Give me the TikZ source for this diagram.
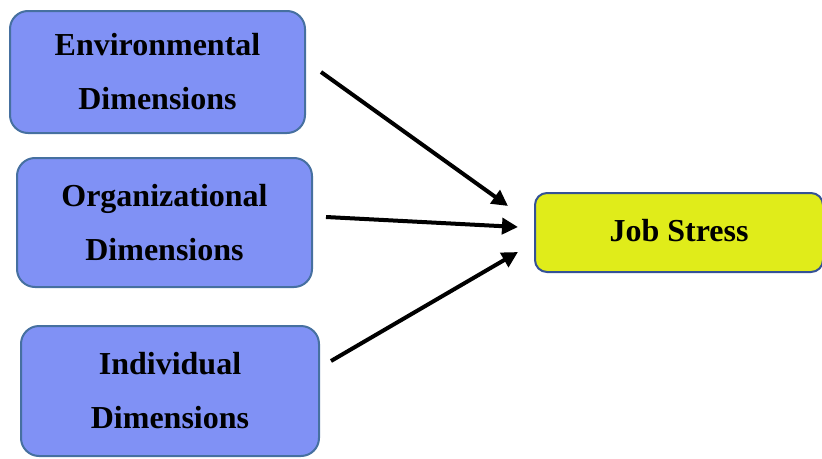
\documentclass[tikz,border=0pt]{standalone}
\usepackage{fontspec}
\setmainfont{Liberation Serif}
\usetikzlibrary{arrows.meta}
\definecolor{dimfill}{RGB}{128,145,245}
\definecolor{dimline}{RGB}{70,112,160}
\definecolor{stressfill}{RGB}{224,236,26}
\definecolor{stressline}{RGB}{52,82,150}
\tikzset{
  dimbox/.style={draw=dimline, line width=2pt, fill=dimfill, rounded corners=18pt,
    align=center, inner sep=0pt, font=\fontsize{32}{54}\selectfont\bfseries},
  stressbox/.style={draw=stressline, line width=2pt, fill=stressfill, rounded corners=12pt,
    align=center, inner sep=0pt, font=\fontsize{32}{54}\selectfont\bfseries},
  link/.style={line width=4pt, -{Triangle[length=16pt,width=16pt]}}
}
\begin{document}
\begin{tikzpicture}[x=1pt,y=-1pt]
\useasboundingbox (0,0) rectangle (822,458);
% boxes
\node[dimbox, minimum width=295pt, minimum height=122pt] (env) at (157.5,72) {Environmental\\Dimensions};
\node[dimbox, minimum width=295pt, minimum height=129pt] (org) at (164.5,222.5) {Organizational\\Dimensions};
\node[dimbox, minimum width=298pt, minimum height=130pt] (ind) at (170,391) {Individual\\Dimensions};
\node[stressbox, minimum width=288pt, minimum height=79pt] (job) at (679,232.5) {\raisebox{4pt}{Job Stress}};
% arrow ends
\coordinate (envout) at (321,72);
\coordinate (orgout) at (326,217);
\coordinate (indout) at (331,361);
\coordinate (jobin1) at (508,206);
\coordinate (jobin2) at (518,227);
\coordinate (jobin3) at (518,252);
\draw[link] (envout) -- (jobin1);
\draw[link] (orgout) -- (jobin2);
\draw[link] (indout) -- (jobin3);
\end{tikzpicture}
\end{document}
